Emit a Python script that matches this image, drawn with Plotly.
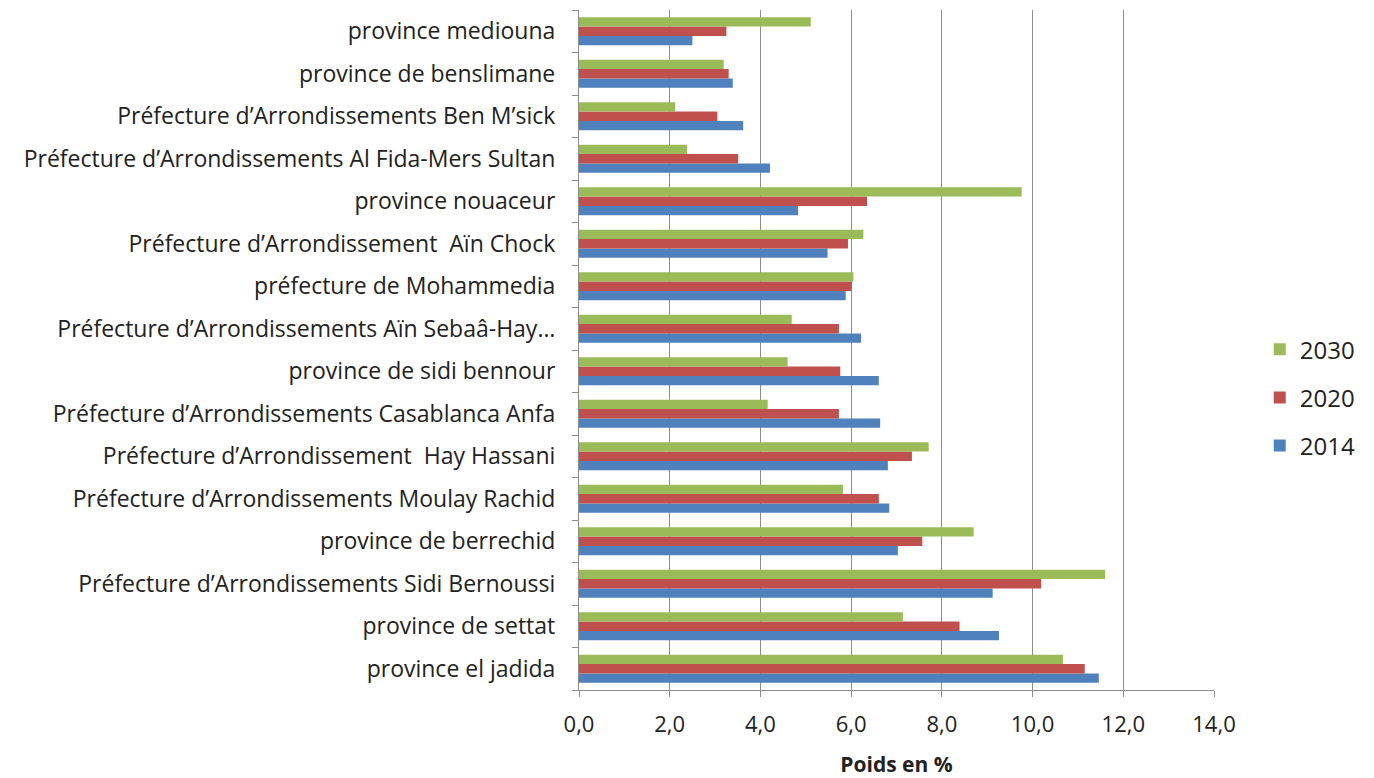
import plotly.graph_objects as go

categories = [
    "province el jadida",
    "province de settat",
    "Préfecture d’Arrondissements Sidi Bernoussi",
    "province de berrechid",
    "Préfecture d’Arrondissements Moulay Rachid",
    "Préfecture d’Arrondissement \u00a0Hay Hassani",
    "Préfecture d’Arrondissements Casablanca Anfa",
    "province de sidi bennour",
    "Préfecture d’Arrondissements Aïn Sebaâ-Hay…",
    "préfecture de Mohammedia",
    "Préfecture d’Arrondissement \u00a0Aïn Chock",
    "province nouaceur",
    "Préfecture d’Arrondissements Al Fida-Mers Sultan",
    "Préfecture d’Arrondissements Ben M’sick",
    "province de benslimane",
    "province mediouna",
]
v2014 = [11.46, 9.26, 9.12, 7.03, 6.84, 6.81, 6.64, 6.61, 6.22, 5.88, 5.48, 4.83, 4.21, 3.62, 3.39, 2.50]
v2020 = [11.15, 8.39, 10.19, 7.57, 6.61, 7.34, 5.73, 5.76, 5.73, 6.01, 5.93, 6.35, 3.51, 3.05, 3.30, 3.25]
v2030 = [10.67, 7.14, 11.60, 8.70, 5.82, 7.71, 4.16, 4.60, 4.69, 6.05, 6.27, 9.76, 2.38, 2.12, 3.19, 5.11]
x_ticks = [0, 2, 4, 6, 8, 10, 12, 14]

series = [("2014", v2014, "#4F81BD", 3), ("2020", v2020, "#C0504D", 2), ("2030", v2030, "#9BBB59", 1)]

fig = go.Figure()
for name, vals, col, rank in series:
    fig.add_trace(go.Bar(
        y=categories, x=vals, name=name, orientation="h",
        marker=dict(color=col, line=dict(width=0)),
        legendgroup=name, legendrank=rank,
    ))

fig.update_layout(
    width=1374, height=778,
    margin=dict(l=579, r=160, t=10, b=88),
    barmode="group", bargap=0.34, bargroupgap=0,
    plot_bgcolor="white", paper_bgcolor="white",
    separators=", ",
    font=dict(family="Open Sans", size=23, color="#222222"),
    legend=dict(x=1.072, y=0.43, xanchor="left", yanchor="middle",
                traceorder="grouped", tracegroupgap=14,
                font=dict(size=24), itemwidth=30),
    xaxis=dict(range=[0, 14], tickvals=x_ticks, tickformat=".1f",
               showgrid=True, gridcolor="#8c8c8c", gridwidth=1.2,
               showline=True, linecolor="#8c8c8c", linewidth=1.2,
               ticks="outside", ticklen=6, tickcolor="#8c8c8c",
               zeroline=False, ticklabelstandoff=8, automargin=False,
               title=dict(text="<b>Poids en %</b>", font=dict(size=21), standoff=26),
               tickfont=dict(size=22)),
    yaxis=dict(type="category", showline=True, linecolor="#8c8c8c", linewidth=1.2,
               ticks="outside", ticklen=6, tickcolor="#8c8c8c", tickson="boundaries",
               showgrid=False, tickfont=dict(size=23), automargin=False,
               ticklabelstandoff=18),
)

fig.write_html("out.html", post_script="document.body.style.margin='0';",
               config={"displayModeBar": False})
